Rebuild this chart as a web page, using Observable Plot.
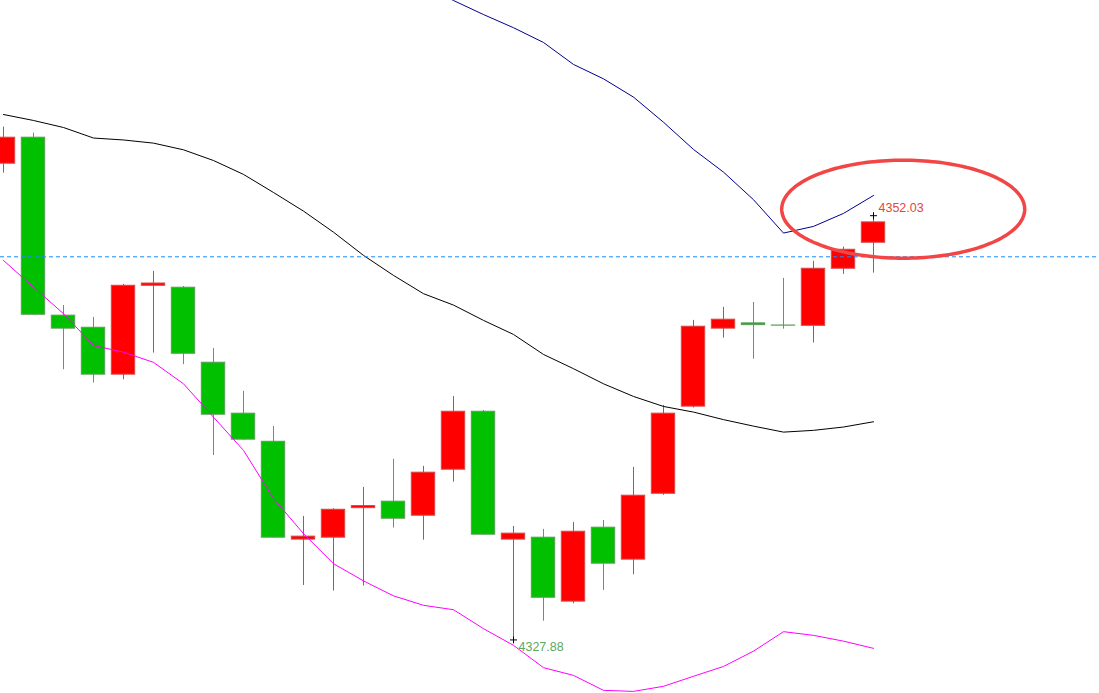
<!DOCTYPE html>
<html><head><meta charset="utf-8">
<script src="https://cdn.jsdelivr.net/npm/d3@7"></script>
<script src="https://cdn.jsdelivr.net/npm/@observablehq/plot@0.6"></script>
<style>html,body{margin:0;padding:0;background:#fff;overflow:hidden} svg{display:block}</style>
</head><body><div id="chart"></div>
<script>
// Candle index (bar number)
const barIndex = d3.range(30);
const openV  = [4354.99, 4356.47, 4346.34, 4345.65, 4342.98, 4348.04, 4347.93, 4343.66, 4340.76, 4339.16, 4333.59, 4333.70, 4335.38, 4335.75, 4334.95, 4337.57, 4340.87, 4333.59, 4333.70, 4330.06, 4334.27, 4332.45, 4336.20, 4341.16, 4345.60, 4345.90, 4345.78, 4345.76, 4349.01, 4350.49];
const closeV = [4356.47, 4346.39, 4345.60, 4342.98, 4348.04, 4348.17, 4344.17, 4340.70, 4339.28, 4333.70, 4333.76, 4335.29, 4335.50, 4334.78, 4337.40, 4340.87, 4333.87, 4333.93, 4330.28, 4334.04, 4332.22, 4336.09, 4340.76, 4345.71, 4346.11, 4345.80, 4345.77, 4349.01, 4350.09, 4351.65];
const highV  = [4357.07, 4356.73, 4346.92, 4346.24, 4348.12, 4348.86, 4348.00, 4344.47, 4342.03, 4340.03, 4334.91, 4335.35, 4336.56, 4338.16, 4337.76, 4341.74, 4340.94, 4334.34, 4334.17, 4334.57, 4334.68, 4337.70, 4341.23, 4346.07, 4346.81, 4347.09, 4348.46, 4349.43, 4350.24, 4352.03];
const lowV   = [4354.45, 4346.35, 4343.26, 4342.50, 4342.69, 4344.21, 4343.55, 4338.38, 4339.25, 4333.66, 4330.98, 4330.66, 4330.95, 4334.25, 4333.56, 4336.86, 4333.84, 4327.88, 4328.95, 4329.94, 4330.70, 4331.59, 4336.11, 4341.08, 4345.06, 4343.86, 4345.57, 4344.78, 4348.69, 4348.76];
// Bollinger bands
const upperBand = [null, null, null, null, null, null, null, null, null, null, null, null, null, null, 4365.13, 4364.28, 4363.48, 4362.73, 4361.89, 4360.64, 4359.82, 4358.78, 4357.35, 4355.80, 4354.51, 4352.94, 4351.04, 4351.42, 4352.16, 4353.18];
const midBand   = [4357.79, 4357.45, 4357.05, 4356.45, 4356.34, 4356.16, 4355.78, 4355.17, 4354.38, 4353.35, 4352.29, 4351.09, 4349.77, 4348.63, 4347.59, 4346.94, 4346.07, 4345.27, 4344.13, 4343.32, 4342.46, 4341.74, 4341.17, 4340.85, 4340.42, 4340.05, 4339.71, 4339.81, 4340.00, 4340.30];
const lowerBand = [4349.48, 4347.96, 4346.45, 4344.64, 4344.26, 4343.68, 4342.46, 4340.56, 4338.67, 4335.93, 4333.93, 4332.22, 4331.24, 4330.39, 4329.85, 4329.60, 4328.52, 4327.57, 4326.30, 4325.86, 4325.01, 4324.95, 4325.24, 4325.81, 4326.37, 4327.24, 4328.35, 4328.14, 4327.81, 4327.40];
// Reference level and annotations
const levelLine = [4349.69];
const highMark = [{i: 29, price: 4352.03, label: "4352.03"}];
const lowMark  = [{i: 17, price: 4327.88, label: "4327.88"}];
const ellipseCenter = {i: 29.99, price: 4352.40};
const ellipseRadius = {i: 4.05, price: 2.79};

const candles = barIndex.map(i => ({
  i, open: openV[i], close: closeV[i], high: highV[i], low: lowV[i], up: closeV[i] >= openV[i]
}));
const bands = barIndex.map(i => ({i, upper: upperBand[i], mid: midBand[i], lower: lowerBand[i]}));
const ellipsePts = d3.range(0, 360, 2).map(a => {
  const t = a * Math.PI / 180;
  return {i: ellipseCenter.i + ellipseRadius.i * Math.cos(t), price: ellipseCenter.price + ellipseRadius.price * Math.sin(t)};
});

const crossSymbol = {
  draw(context, size) {
    const r = Math.sqrt(size / Math.PI);
    context.moveTo(-r, 0); context.lineTo(r, 0);
    context.moveTo(0, -r); context.lineTo(0, r);
  }
};

const RED = "#ff0000", RED_EDGE = "#d64848", RED_WICK = "#c84848";
const GREEN = "#00c000", GREEN_EDGE = "#5a9e5a";
const FONT = "Liberation Sans, Arial, sans-serif";

const chart = Plot.plot({
  width: 1099,
  height: 693,
  margin: 0,
  style: {background: "#fff"},
  x: {type: "linear", domain: [-0.1, 36.533], axis: null},
  y: {domain: [4324.83, 4364.28], axis: null},
  color: {type: "identity"},
  marks: [
    Plot.frame({anchor: "bottom", stroke: "#dfe7ee"}),
    Plot.ruleX(candles, {x: "i", y1: "low", y2: "high", stroke: d => d.up ? RED_WICK : GREEN_EDGE, strokeWidth: 1}),
    Plot.rect(candles, {x1: d => d.i - 0.39, x2: d => d.i + 0.39, y1: "open", y2: "close",
      fill: d => d.up ? RED : GREEN, stroke: d => d.up ? RED_EDGE : GREEN_EDGE, strokeWidth: 1}),
    Plot.line(bands, {x: "i", y: "mid", stroke: "#000000", strokeWidth: 1, clip: true}),
    Plot.line(bands, {x: "i", y: "lower", stroke: "#ff00ff", strokeWidth: 1, clip: true}),
    Plot.line(bands, {x: "i", y: "upper", stroke: "#000090", strokeWidth: 1, clip: true}),
    Plot.ruleY(levelLine, {stroke: "#1a8cff", strokeWidth: 1, strokeDasharray: "4,3"}),
    Plot.line(ellipsePts, {x: "i", y: "price", curve: "linear-closed", stroke: "#f24545", strokeWidth: 3.5, fill: "none"}),
    Plot.dot(highMark.concat(lowMark), {x: "i", y: "price", symbol: crossSymbol, r: 3.5, stroke: "#000", fill: "none", strokeWidth: 1}),
    Plot.text(highMark, {x: "i", y: "price", text: "label", fill: "#e0483c", dx: 5, dy: -8,
      textAnchor: "start", lineAnchor: "middle", fontSize: 12.5, fontFamily: FONT}),
    Plot.text(lowMark, {x: "i", y: "price", text: "label", fill: "#5ca85c", dx: 5, dy: 7,
      textAnchor: "start", lineAnchor: "middle", fontSize: 12.5, fontFamily: FONT})
  ]
});
document.getElementById("chart").appendChild(chart);
</script>
</body></html>
